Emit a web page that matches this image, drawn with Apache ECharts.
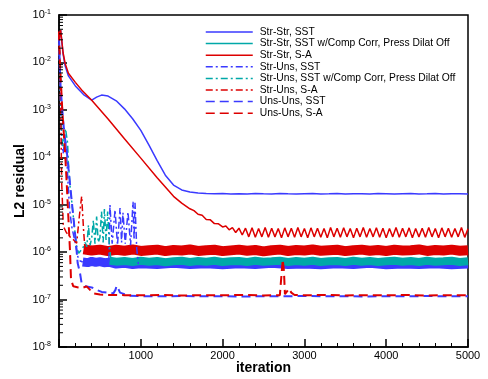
<!DOCTYPE html>
<html><head><meta charset="utf-8">
<script src="https://cdn.jsdelivr.net/npm/echarts@6/dist/echarts.min.js"></script>
<style>html,body{margin:0;padding:0;background:#fff}#c{width:488px;height:379px}</style>
</head><body><div id="c"></div>
<script>
// ---------- DATA ----------
const seriesNames = ['Str-Str, SST', 'Str-Str, SST w/Comp Corr, Press Dilat Off', 'Str-Str, S-A',
  'Str-Uns, SST', 'Str-Uns, SST w/Comp Corr, Press Dilat Off', 'Str-Uns, S-A', 'Uns-Uns, SST', 'Uns-Uns, S-A'];
const xTickLabels = ['', '1000', '2000', '3000', '4000', '5000'];

// Str-Str, SST (blue solid)
const strStrSST = [[0,3.0e-2],[20,4.8e-2],[50,1.5e-2],[75,8.5e-3],[115,5.2e-3],[200,3.2e-3],[300,2.1e-3],[400,1.6e-3],
  [460,1.85e-3],[520,2.05e-3],[600,1.95e-3],[700,1.55e-3],[800,1.05e-3],[900,6.5e-4],[1000,3.7e-4],[1100,1.8e-4],
  [1200,8.5e-5],[1300,4.2e-5],[1400,2.6e-5],[1500,2.05e-5],[1600,1.85e-5],[1700,1.76e-5],[1800,1.72e-5],[1900,1.70e-5],
  [2000,1.73e-5],[2100,1.69e-5],[2200,1.71e-5],[2300,1.68e-5],[2400,1.72e-5],[2500,1.70e-5],[2600,1.69e-5],[2700,1.73e-5],
  [2800,1.70e-5],[2900,1.68e-5],[3000,1.71e-5],[3100,1.72e-5],[3200,1.69e-5],[3300,1.70e-5],[3400,1.73e-5],[3500,1.68e-5],
  [3600,1.70e-5],[3700,1.71e-5],[3800,1.69e-5],[3900,1.72e-5],[4000,1.70e-5],[4100,1.68e-5],[4200,1.71e-5],[4300,1.73e-5],
  [4400,1.69e-5],[4500,1.70e-5],[4600,1.72e-5],[4700,1.68e-5],[4800,1.71e-5],[4900,1.70e-5],[5000,1.69e-5]];

// Str-Str, SST w/Comp Corr (cyan solid, noisy band)
const strStrSSTcc = [[620,6.6e-7],[700,6.3e-7],[800,6.5e-7],[900,6.2e-7],[1000,6.6e-7],[1100,6.3e-7],[1200,6.5e-7],[1300,6.1e-7],
  [1400,6.4e-7],[1500,6.6e-7],[1600,6.2e-7],[1700,6.5e-7],[1800,6.3e-7],[1900,6.6e-7],[2000,6.2e-7],[2100,6.4e-7],[2200,6.5e-7],
  [2300,6.2e-7],[2400,6.6e-7],[2500,6.3e-7],[2600,6.4e-7],[2700,6.6e-7],[2800,6.2e-7],[2900,6.5e-7],[3000,6.3e-7],[3100,6.6e-7],
  [3200,6.2e-7],[3300,6.4e-7],[3400,6.5e-7],[3500,6.2e-7],[3600,6.6e-7],[3700,6.3e-7],[3800,6.5e-7],[3900,6.2e-7],[4000,6.4e-7],
  [4100,6.6e-7],[4200,6.3e-7],[4300,6.5e-7],[4400,6.2e-7],[4500,6.6e-7],[4600,6.3e-7],[4700,6.4e-7],[4800,6.6e-7],[4900,6.2e-7],[5000,6.4e-7]];

// Str-Str, S-A (red solid)
const strStrSA = [[0,3.0e-2],[20,4.8e-2],[50,1.6e-2],[75,9.5e-3],[115,5.9e-3],[200,3.8e-3],[280,2.6e-3],[400,1.6e-3],[600,6.4e-4],
  [800,2.45e-4],[1000,9.6e-5],[1200,3.7e-5],[1400,1.5e-5],[1500,1.08e-5],[1600,8.2e-6],[1650,7.5e-6],[1700,6.3e-6],[1750,6.0e-6],
  [1800,4.9e-6],[1850,4.8e-6],[1900,4.0e-6],[1950,3.95e-6],[2000,3.4e-6],[2040,3.55e-6],[2080,2.95e-6],[2120,3.3e-6],[2160,2.6e-6],
  [2200,3.2e-6],[2240,2.3e-6],[2280,3.2e-6],[2320,2.1e-6],[2360,3.25e-6],[2400,2.05e-6],[2440,3.15e-6],[2480,2.1e-6],[2520,3.3e-6],
  [2560,2.05e-6],[2600,3.2e-6],[2640,2.1e-6],[2680,3.15e-6],[2720,2.0e-6],[2760,3.25e-6],[2800,2.1e-6],[2840,3.2e-6],[2880,2.05e-6],
  [2920,3.3e-6],[2960,2.1e-6],[3000,3.15e-6],[3040,2.0e-6],[3080,3.25e-6],[3120,2.1e-6],[3160,3.2e-6],[3200,2.05e-6],[3240,3.15e-6],
  [3280,2.0e-6],[3320,3.3e-6],[3360,2.1e-6],[3400,3.2e-6],[3440,2.05e-6],[3480,3.25e-6],[3520,2.1e-6],[3560,3.15e-6],[3600,2.0e-6],
  [3640,3.2e-6],[3680,2.1e-6],[3720,3.3e-6],[3760,2.05e-6],[3800,3.15e-6],[3840,2.1e-6],[3880,3.25e-6],[3920,2.05e-6],[3960,3.2e-6],
  [4000,2.0e-6],[4040,3.15e-6],[4080,2.1e-6],[4120,3.3e-6],[4160,2.05e-6],[4200,3.2e-6],[4240,2.1e-6],[4280,3.25e-6],[4320,2.0e-6],
  [4360,3.15e-6],[4400,2.1e-6],[4440,3.2e-6],[4480,2.05e-6],[4520,3.3e-6],[4560,2.1e-6],[4600,3.15e-6],[4640,2.0e-6],[4680,3.25e-6],
  [4720,2.1e-6],[4760,3.2e-6],[4800,2.05e-6],[4840,3.15e-6],[4880,2.1e-6],[4920,3.3e-6],[4960,2.05e-6],[5000,3.1e-6]];

// Str-Uns, SST (blue dash-dot): early descent, then spikes
const strUnsSST = [[0,4.0e-2],[10,5e-3],[20,1e-3],[35,2.0e-4],[50,1.2e-4],[65,1.9e-4],[80,2.3e-4],[95,1.0e-4],[110,3.0e-5],
  [130,8e-6],[155,3.5e-6],[180,2.2e-6],[205,1.4e-6],[230,8e-7],[260,6.5e-7],[290,6.2e-7],[450,null],
  [610,7e-7],[623,1.0e-5],[650,1.5e-6],[685,7.8e-6],[715,1.4e-6],[746,8.5e-6],[765,1.6e-6],[782,6.8e-6],[810,1.5e-6],
  [843,7.1e-6],[875,1.4e-6],[905,1.15e-5],[918,1.8e-6],[929,1.1e-5],[950,1.2e-6],[970,5.6e-7]];
// Str-Uns, SST noisy band
const strUnsSSTband = [[290,6.2e-7],[350,6.0e-7],[400,6.4e-7],[450,6.1e-7],[500,6.3e-7],[550,6.0e-7],[620,6.1e-7],[700,5.6e-7],
  [800,5.8e-7],[900,5.5e-7],[1000,5.7e-7],[1200,5.5e-7],[1400,5.8e-7],[1600,5.5e-7],[1800,5.7e-7],[2000,5.4e-7],[2200,5.7e-7],
  [2400,5.5e-7],[2600,5.8e-7],[2800,5.5e-7],[3000,5.6e-7],[3200,5.4e-7],[3400,5.7e-7],[3600,5.5e-7],[3800,5.8e-7],[4000,5.4e-7],
  [4200,5.6e-7],[4400,5.5e-7],[4600,5.7e-7],[4800,5.4e-7],[5000,5.6e-7]];

// Str-Uns, SST w/Comp Corr (cyan dash-dot)
const strUnsSSTcc = [[0,4.0e-2],[10,6e-3],[20,1.5e-3],[35,2.5e-4],[50,1.6e-4],[65,2.8e-4],[80,4.0e-4],[94,4.1e-4],[105,2e-4],
  [114,8e-5],[135,2.5e-5],[155,1.2e-5],[175,5.6e-6],[196,2.5e-6],[216,1.3e-6],[240,9.5e-7],[290,1.2e-6],[320,1.6e-6],[340,1.3e-6],
  [360,3.7e-6],[380,1.4e-6],[400,2.0e-6],[420,4.7e-6],[440,1.5e-6],[460,5.6e-6],[480,1.6e-6],[500,2.0e-6],[520,7.2e-6],[540,1.6e-6],
  [555,8.1e-6],[575,1.8e-6],[595,7.2e-6],[615,1.5e-6],[635,6.5e-7]];

// Str-Uns, S-A (red dash-dot): early part, then noisy band
const strUnsSA = [[0,4.2e-2],[10,8e-3],[20,1.2e-3],[33,2.9e-5],[53,3.5e-6],[90,2.6e-6],[134,2.1e-6],[180,1.8e-6],[216,1.55e-6],
  [250,6e-6],[277,1.5e-5],[300,3e-6],[318,1.1e-6]];
const strUnsSAband = [[300,1.15e-6],[400,1.08e-6],[500,1.13e-6],[600,1.05e-6],[700,1.12e-6],[800,1.07e-6],[900,1.14e-6],[1000,1.06e-6],
  [1100,1.1e-6],[1200,1.13e-6],[1300,1.05e-6],[1400,1.11e-6],[1500,1.08e-6],[1600,1.14e-6],[1700,1.06e-6],[1800,1.1e-6],[1900,1.12e-6],
  [2000,1.05e-6],[2100,1.09e-6],[2200,1.13e-6],[2300,1.07e-6],[2400,1.11e-6],[2500,1.04e-6],[2600,1.1e-6],[2700,1.13e-6],[2800,1.06e-6],
  [2900,1.11e-6],[3000,1.08e-6],[3100,1.14e-6],[3200,1.07e-6],[3300,1.1e-6],[3400,1.12e-6],[3500,1.05e-6],[3600,1.1e-6],[3700,1.13e-6],
  [3800,1.07e-6],[3900,1.11e-6],[4000,1.06e-6],[4100,1.12e-6],[4200,1.08e-6],[4300,1.1e-6],[4400,1.14e-6],[4500,1.06e-6],[4600,1.11e-6],
  [4700,1.08e-6],[4800,1.13e-6],[4900,1.07e-6],[5000,1.1e-6]];

// Uns-Uns, SST (blue dashed)
const unsUnsSST = [[0,3.5e-2],[10,8e-3],[20,3e-3],[40,1e-3],[60,4e-4],[80,2e-4],[94,1.4e-4],[134,2.8e-5],[175,5.6e-6],[204,1.8e-6],
  [228,5.9e-7],[257,3.6e-7],[277,2.2e-7],[318,1.9e-7],[400,1.8e-7],[460,1.6e-7],[522,1.45e-7],[600,1.4e-7],[664,1.35e-7],[690,1.6e-7],
  [705,1.95e-7],[725,1.7e-7],[746,1.4e-7],[800,1.3e-7],[847,1.2e-7],[1000,1.18e-7],[1250,1.17e-7],[1500,1.19e-7],[1750,1.17e-7],
  [2000,1.18e-7],[2250,1.16e-7],[2500,1.18e-7],[2750,1.17e-7],[3000,1.19e-7],[3250,1.17e-7],[3500,1.18e-7],[3750,1.16e-7],
  [4000,1.18e-7],[4250,1.17e-7],[4500,1.19e-7],[4750,1.17e-7],[5000,1.18e-7]];

// Uns-Uns, S-A (red dashed)
const unsUnsSA = [[0,4.5e-2],[10,1.2e-2],[20,5e-3],[40,1e-3],[55,4e-4],[73,1.4e-4],[94,2.9e-5],[114,5.6e-6],[134,1.1e-6],[147,2.6e-7],
  [175,1.9e-7],[236,1.8e-7],[280,1.75e-7],[338,1.9e-7],[379,1.6e-7],[420,1.35e-7],[500,1.28e-7],[600,1.25e-7],[800,1.24e-7],
  [1000,1.23e-7],[1250,1.25e-7],[1500,1.22e-7],[1750,1.24e-7],[2000,1.23e-7],[2250,1.25e-7],[2500,1.22e-7],[2700,1.24e-7],
  [2720,1.3e-7],[2735,7e-7],[2750,4e-7],[2762,1.3e-7],[2790,1.5e-7],[2810,1.7e-7],[2840,1.4e-7],[2880,1.25e-7],[3000,1.23e-7],
  [3250,1.25e-7],[3500,1.22e-7],[3750,1.24e-7],[4000,1.23e-7],[4250,1.25e-7],[4500,1.22e-7],[4750,1.24e-7],[5000,1.23e-7]];

// ---------- CHART ----------
const FONT = '"Liberation Sans", Arial, Helvetica, sans-serif';
const BLUE = '#3a3aff', CYAN = '#00a8a8', RED = '#dd0000';
const DASH = [9, 5], DASHDOT = [7, 3, 2, 3];

function line(name, data, color, type, width, z) {
  return { name, type: 'line', data, symbol: 'none', showSymbol: false, animation: false, z, silent: true,
    connectNulls: false, lineStyle: { color, type, width }, itemStyle: { color } };
}

// minor ticks of the log axis (2..9 x 10^n)
const minorTickValues = [];
for (let e = -8; e <= -2; e++) for (let m = 2; m <= 9; m++) minorTickValues.push([0, m * Math.pow(10, e)]);

const chart = echarts.init(document.getElementById('c'), null, { renderer: 'canvas' });
chart.setOption({
  animation: false,
  backgroundColor: '#fff',
  grid: { left: 59, right: 20, top: 15, bottom: 32, containLabel: false, outerBoundsMode: 'none',
    show: true, borderColor: '#000', borderWidth: 1.5, backgroundColor: 'transparent' },
  legend: {
    data: seriesNames, orient: 'vertical', left: 205, top: 27, padding: 0, itemWidth: 47, itemHeight: 10, itemGap: 1.6,
    selectedMode: false, lineStyle: { width: 1.5 }, itemStyle: { opacity: 0 },
    textStyle: { fontFamily: FONT, fontSize: 10.3, color: '#000', padding: [0, 0, 0, 2] }
  },
  xAxis: {
    type: 'value', min: 0, max: 5000, interval: 1000,
    axisLine: { lineStyle: { color: '#000', width: 1.5 } },
    axisTick: { inside: true, length: 8, lineStyle: { color: '#000', width: 1.5 } },
    minorTick: { show: true, splitNumber: 5, length: 4, lineStyle: { color: '#000', width: 1 } },
    splitLine: { show: false },
    axisLabel: { formatter: (v) => xTickLabels[Math.round(v / 1000)], fontFamily: FONT, fontSize: 11, color: '#000', margin: 3 },
    name: 'iteration', nameLocation: 'middle', nameGap: 14, nameMoveOverlap: false,
    nameTextStyle: { fontFamily: FONT, fontWeight: 'bold', fontSize: 14, color: '#000' }
  },
  yAxis: {
    type: 'log', logBase: 10, min: 1e-8, max: 1e-1, interval: 1, splitNumber: 7,
    axisLine: { lineStyle: { color: '#000', width: 1.5 } },
    axisTick: { inside: true, length: 8, lineStyle: { color: '#000', width: 1.5 } },
    splitLine: { show: false },
    axisLabel: {
      margin: 8,
      formatter: (v) => '{b|10}{s|' + Math.round(Math.log10(v)) + '}',
      rich: {
        b: { fontFamily: FONT, fontSize: 11, color: '#000', lineHeight: 13 },
        s: { fontFamily: FONT, fontSize: 7, color: '#000', verticalAlign: 'top', lineHeight: 8 }
      }
    },
    name: 'L2 residual', nameLocation: 'middle', nameGap: 32, nameMoveOverlap: false,
    nameTextStyle: { fontFamily: FONT, fontWeight: 'bold', fontSize: 14, color: '#000' }
  },
  series: [
    line(seriesNames[0], strStrSST, BLUE, 'solid', 1.5, 6),
    line(seriesNames[1], strStrSSTcc, CYAN, 'solid', 8, 3),
    line(seriesNames[2], strStrSA, RED, 'solid', 1.5, 7),
    line(seriesNames[3], strUnsSST, BLUE, DASHDOT, 1.5, 5),
    line(seriesNames[4], strUnsSSTcc, CYAN, DASHDOT, 1.5, 5),
    line(seriesNames[5], strUnsSA, RED, DASHDOT, 1.5, 5),
    line(seriesNames[6], unsUnsSST, BLUE, DASH, 2, 5),
    line(seriesNames[7], unsUnsSA, RED, DASH, 2, 6),
    line(seriesNames[3], strUnsSSTband, BLUE, 'solid', 9, 2),
    line(seriesNames[5], strUnsSAband, RED, 'solid', 10, 4),
    {
      type: 'custom', silent: true, animation: false, z: 10, data: minorTickValues,
      renderItem: (params, api) => {
        const p = api.coord([api.value(0), api.value(1)]);
        return { type: 'line', shape: { x1: p[0], y1: p[1], x2: p[0] + 4, y2: p[1] }, style: { stroke: '#000', lineWidth: 1 } };
      }
    }
  ]
});
</script>
</body></html>
